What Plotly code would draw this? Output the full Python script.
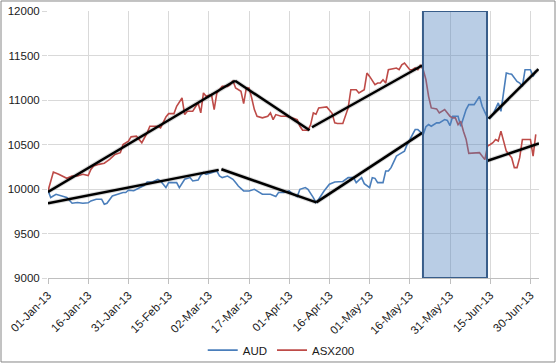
import datetime as dt
import plotly.graph_objects as go

BASE = dt.datetime(2013, 1, 1)

# ASX200 series (day offset from 01-Jan-13, value)
asx_days = [0, 2, 4, 7, 9, 11, 13, 15, 16, 17, 19, 21, 23, 25, 27, 28, 30, 31, 33, 35,
            37, 38, 41, 42, 44, 45, 47, 48, 50, 51, 52, 54, 56, 57, 58, 59, 61, 62, 63, 65,
            67, 68, 69, 70, 72, 73, 74, 75, 76, 77, 78, 80, 82, 83, 84, 85, 87, 89, 91, 93,
            94, 95, 97, 98, 99, 100, 101, 103, 104, 106, 107, 108, 110, 112, 113, 115, 116, 118, 119, 120,
            122, 123, 124, 125, 126, 127, 130, 131, 132, 133, 135, 136, 137, 138, 139, 140, 141, 142, 143, 145,
            146, 148, 149, 150, 151, 152, 153, 154, 155, 156, 157, 160, 161, 163, 164, 165, 166, 167, 168, 169,
            170, 171, 173, 174, 175, 176, 177, 179, 180, 181, 182]
asx_vals = [9978, 10190, 10165, 10120, 10146, 10146, 10165, 10150, 10220, 10258, 10277, 10290, 10333, 10389, 10408, 10500, 10537, 10586, 10594, 10520,
            10631, 10705, 10705, 10687, 10810, 10847, 10847, 10929, 11023, 10836, 10873, 10873, 10967, 10855, 11079, 11041, 11060, 10892, 11079, 11153,
            11153, 11172, 11216, 11135, 11097, 10960, 11135, 11135, 11023, 10892, 10817, 10799, 10817, 10855, 10780, 10836, 10817, 10817, 10799, 10780,
            10705, 10660, 10660, 10724, 10855, 10840, 10911, 10922, 10922, 10850, 10743, 10736, 10736, 10911, 11116, 11116, 11079, 11116, 11303, 11265,
            11172, 11191, 11191, 11228, 11191, 11340, 11359, 11340, 11396, 11415, 11340, 11340, 11359, 11340, 11396, 11340, 11230, 11041, 10911, 10900,
            10855, 10892, 10855, 10817, 10799, 10799, 10724, 10762, 10650, 10560, 10400, 10400, 10408, 10330, 10482, 10500, 10520, 10557, 10540, 10650,
            10520, 10426, 10352, 10240, 10240, 10352, 10557, 10557, 10557, 10370, 10613]

# AUD series (day offset from 01-Jan-13, value)
aud_days = [0, 1, 3, 5, 7, 9, 11, 13, 15, 16, 18, 20, 21, 22, 24, 26, 28, 29, 30, 32,
            35, 36, 37, 39, 41, 42, 44, 45, 48, 49, 51, 53, 54, 56, 57, 58, 59, 61, 62, 63,
            64, 65, 67, 69, 70, 71, 73, 75, 77, 79, 80, 83, 85, 86, 88, 90, 91, 93, 94, 96,
            97, 99, 100, 101, 103, 105, 107, 110, 112, 114, 115, 116, 117, 118, 119, 120, 121, 122, 123, 125,
            126, 127, 128, 130, 131, 133, 134, 135, 137, 138, 140, 141, 142, 143, 145, 146, 148, 149, 150, 151,
            153, 154, 156, 157, 159, 161, 162, 164, 165, 166, 168, 169, 171, 172, 173, 175, 176, 177, 178, 180,
            181, 182]
aud_vals = [9985, 9904, 9941, 9922, 9904, 9840, 9848, 9840, 9845, 9866, 9885, 9885, 9829, 9840, 9922, 9941, 9960, 9960, 9986, 9980,
            10030, 10042, 10079, 10079, 10109, 10090, 10016, 10072, 10072, 10016, 10109, 10128, 10090, 10100, 10154, 10184, 10165, 10184, 10190, 10202,
            10146, 10128, 10146, 10109, 10072, 10034, 9978, 9978, 9997, 9960, 9941, 9941, 9915, 9960, 9960, 9978, 9952, 9915, 9997, 10016,
            9997, 9904, 9848, 9885, 9978, 10053, 10079, 10085, 10128, 10128, 10072, 10100, 10128, 10060, 10034, 10016, 10128, 10120, 10072, 10072,
            10202, 10202, 10240, 10370, 10389, 10426, 10500, 10557, 10668, 10668, 10612, 10700, 10724, 10705, 10743, 10743, 10780, 10770, 10713, 10817,
            10817, 10705, 10892, 10948, 10948, 11041, 10929, 10799, 10799, 10836, 10967, 10873, 11303, 11295, 11290, 11209, 11191, 11153, 11340, 11340,
            11265, 11330]

# Hand-drawn trend segments: (start day, start value, end day, end value)
asx_trend = [(0, 9967, 69.8, 11216), (69.8, 11216, 97.6, 10660),
             (98.5, 10694, 139.6, 11388), (164.0, 10318, 183.2, 10511)]
aud_trend = [(0, 9840, 63.7, 10215), (64.7, 10222, 100.1, 9850),
             (100.1, 9850, 139.6, 10631), (164.4, 10791, 183.0, 11347)]

# Highlight box
box_days = (139.9, 163.8)

# Axis ticks
tick_days = [0, 15, 30, 45, 60, 75, 90, 105, 120, 135, 150, 165, 180]
tick_labels = ["01-Jan-13", "16-Jan-13", "31-Jan-13", "15-Feb-13", "02-Mar-13", "17-Mar-13",
               "01-Apr-13", "16-Apr-13", "01-May-13", "16-May-13", "31-May-13", "15-Jun-13", "30-Jun-13"]
y_ticks = [9000, 9500, 10000, 10500, 11000, 11500, 12000]
y_labels = ["9000", "9500", "10000", "10500", "11000", "11500", "12000"]


def d(x):
    return BASE + dt.timedelta(days=x)


FONT = "Liberation Sans"
fig = go.Figure()

fig.add_trace(go.Scatter(x=[d(v) for v in aud_days], y=aud_vals, mode="lines", name="AUD",
                         line=dict(color="#4A7EBB", width=1.6)))
fig.add_trace(go.Scatter(x=[d(v) for v in asx_days], y=asx_vals, mode="lines", name="ASX200",
                         line=dict(color="#BE4B48", width=1.6)))

for seg in asx_trend + aud_trend:
    xs = [d(seg[0]), d(seg[2])]
    ys = [seg[1], seg[3]]
    fig.add_trace(go.Scatter(x=xs, y=ys, mode="lines", showlegend=False, hoverinfo="skip",
                             line=dict(color="rgba(0,0,0,0.15)", width=4.5)))
    fig.add_trace(go.Scatter(x=xs, y=ys, mode="lines", showlegend=False, hoverinfo="skip",
                             line=dict(color="#000000", width=2.5)))

fig.add_shape(type="rect", xref="x", yref="y", x0=d(box_days[0]), x1=d(box_days[1]),
              y0=y_ticks[0], y1=y_ticks[-1], fillcolor="rgba(79,129,189,0.4)",
              line=dict(color="#385D8A", width=2), layer="above")

# chart-area border
fig.add_shape(type="rect", xref="paper", yref="paper", x0=-0.0957, x1=1.0326,
              y0=-0.3146, y1=1.0375, line=dict(color="#868686", width=1), layer="below")

fig.update_layout(
    width=556, height=364,
    margin=dict(l=48, r=17, t=11, b=86, autoexpand=False),
    paper_bgcolor="white", plot_bgcolor="white",
    font=dict(family=FONT, size=11.5, color="#1a1a1a"),
    showlegend=True,
    legend=dict(orientation="h", x=0.475, xanchor="center", y=-0.27, yanchor="middle",
                font=dict(size=11.5), itemwidth=30, bgcolor="rgba(0,0,0,0)"),
    xaxis=dict(range=[d(0), d(183.2)], tickvals=[d(v) for v in tick_days], ticktext=tick_labels,
               tickangle=-45, showgrid=True, gridcolor="#D9D9D9", gridwidth=1,
               ticks="outside", ticklen=5, tickcolor="#BFBFBF", automargin=False,
               showline=True, linecolor="#BFBFBF", zeroline=False),
    yaxis=dict(range=[9000, 12000], tickvals=y_ticks, ticktext=y_labels, showgrid=True,
               gridcolor="#D9D9D9", automargin=False,
               gridwidth=1, ticks="outside", ticklen=5, tickcolor="#D9D9D9",
               showline=False, zeroline=False),
)

fig.write_html("out.html", config={"displayModeBar": False},
               post_script="document.body.style.margin='0px';document.body.style.padding='0px';")
